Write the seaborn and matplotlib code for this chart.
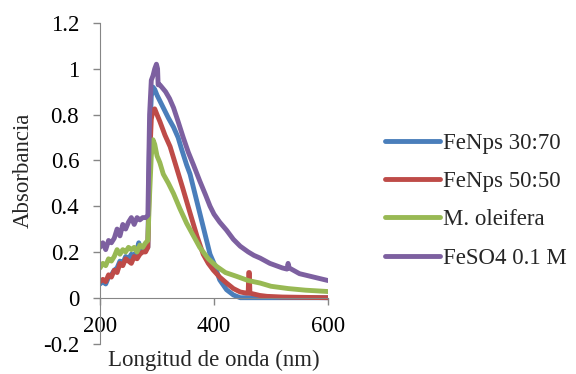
import numpy as np
import pandas as pd
import matplotlib
matplotlib.use("Agg")
import matplotlib.pyplot as plt
import seaborn as sns

# data (wavelength nm, absorbance)
wl_blue = [200, 205, 210, 215, 220, 225, 230, 235, 240, 245, 250, 255, 260, 265, 268, 272, 278, 284,
           287, 290, 293, 296, 300, 305, 311, 320, 329, 337, 343, 352, 358, 365, 375, 385, 393, 400,
           410, 422, 434, 446, 470, 500, 550, 600]
abs_blue = [0.06, 0.07, 0.06, 0.09, 0.10, 0.12, 0.13, 0.16, 0.15, 0.18, 0.17, 0.19, 0.18, 0.21, 0.24, 0.20, 0.21, 0.22,
            0.70, 0.88, 0.92, 0.91, 0.885, 0.86, 0.83, 0.785, 0.745, 0.70, 0.65, 0.58, 0.54, 0.47, 0.37, 0.27, 0.19, 0.15,
            0.078, 0.035, 0.012, 0.0, 0.0, 0.0, 0.0, 0.0]

wl_red = [200, 205, 210, 215, 220, 225, 230, 235, 240, 245, 250, 255, 260, 265, 270, 275, 280, 284,
          287, 290, 293, 296, 300, 305, 314, 323, 334, 345, 358, 370, 381, 390, 399, 410, 422, 434,
          446, 457, 460, 461, 462, 463, 480, 493, 520, 600]
abs_red = [0.07, 0.08, 0.07, 0.10, 0.09, 0.12, 0.11, 0.15, 0.14, 0.17, 0.16, 0.15, 0.18, 0.17, 0.19, 0.20, 0.20, 0.22,
           0.60, 0.78, 0.82, 0.825, 0.80, 0.77, 0.71, 0.66, 0.57, 0.48, 0.37, 0.27, 0.19, 0.15, 0.12, 0.09, 0.064, 0.04,
           0.025, 0.02, 0.02, 0.11, 0.11, 0.02, 0.01, 0.006, 0.003, 0.0]

wl_green = [200, 205, 210, 215, 220, 225, 230, 235, 240, 245, 250, 255, 260, 265, 270, 275, 280, 284,
            287, 290, 293, 296, 300, 305, 311, 320, 329, 340, 352, 364, 375, 390, 405, 420, 440, 460,
            481, 500, 530, 560, 600]
abs_green = [0.13, 0.15, 0.14, 0.17, 0.16, 0.18, 0.21, 0.19, 0.21, 0.20, 0.22, 0.21, 0.22, 0.20, 0.23, 0.22, 0.24, 0.25,
             0.45, 0.62, 0.69, 0.67, 0.62, 0.59, 0.54, 0.50, 0.455, 0.39, 0.325, 0.27, 0.22, 0.17, 0.136, 0.11, 0.093, 0.075,
             0.064, 0.05, 0.04, 0.033, 0.027]

wl_purple = [200, 205, 210, 215, 220, 225, 230, 235, 240, 245, 250, 255, 260, 265, 270, 275, 280, 284,
             287, 290, 293, 296, 299, 301, 302, 305, 310, 315, 322, 329, 337, 346, 355, 364, 375, 385,
             393, 400, 410, 422, 434, 446, 460, 470, 481, 498, 520, 528, 530, 532, 550, 575, 600]
abs_purple = [0.22, 0.24, 0.21, 0.25, 0.24, 0.26, 0.30, 0.27, 0.32, 0.30, 0.33, 0.35, 0.32, 0.35, 0.34, 0.35, 0.35, 0.36,
              0.80, 0.95, 0.97, 1.00, 1.02, 1.00, 0.93, 0.93, 0.915, 0.90, 0.87, 0.83, 0.77, 0.70, 0.635, 0.58, 0.51, 0.45,
              0.40, 0.365, 0.33, 0.295, 0.255, 0.225, 0.20, 0.185, 0.173, 0.15, 0.13, 0.125, 0.15, 0.13, 0.105, 0.09, 0.075]

labels = ["FeNps 30:70", "FeNps 50:50", "M. oleifera", "FeSO4 0.1 M"]
colors = ["#4A7EBB", "#BE4B48", "#98B954", "#7D60A0"]
yticks = [-0.2, 0, 0.2, 0.4, 0.6, 0.8, 1.0, 1.2]
ytick_labels = ["-0.2", "0", "0.2", "0.4", "0.6", "0.8", "1", "1.2"]
xticks = [200, 400, 600]

series = [(wl_blue, abs_blue), (wl_red, abs_red), (wl_green, abs_green), (wl_purple, abs_purple)]

sns.set_style("white")
plt.rcParams['font.family'] = ['Liberation Serif', 'DejaVu Serif']

fig = plt.figure(figsize=(5.76, 3.74), dpi=100)
ax = fig.add_axes([100/576, 30.5/374, 228/576, 320.5/374])

for (wl, ab), lab, col in zip(series, labels, colors):
    df = pd.DataFrame({"wl": wl, "abs": ab})
    sns.lineplot(data=df, x="wl", y="abs", ax=ax, color=col, lw=3.5, label=lab,
                 sort=False, estimator=None, solid_capstyle='round', solid_joinstyle='round')

ax.set_xlim(200, 600)
ax.set_ylim(-0.2, 1.2)
ax.set_xticks(xticks)
ax.set_xticklabels([str(t) for t in xticks])
ax.set_yticks(yticks)
ax.set_yticklabels(ytick_labels)

grey = "#868686"
for s in ["top", "right"]:
    ax.spines[s].set_visible(False)
ax.spines["bottom"].set_position(("data", 0))
ax.spines["bottom"].set_color(grey)
ax.spines["left"].set_color(grey)
ax.tick_params(axis="both", direction="out", color=grey, width=1, labelsize=16.5, labelcolor="black")
ax.tick_params(axis="x", length=5, pad=8, bottom=True)
ax.tick_params(axis="y", length=5, pad=10, left=True)

ax.set_xlabel("Longitud de onda (nm)", fontsize=16.5)
ax.set_ylabel("Absorbancia", fontsize=16.5)
ax.xaxis.set_label_coords(0.5, -0.02)
ax.yaxis.set_label_coords(-0.29, 0.54)

handles, labs = ax.get_legend_handles_labels()
ax.legend(handles, labs, loc="center left", bbox_to_anchor=(385/576, 1 - 200.8/374),
          bbox_transform=fig.transFigure, frameon=False, fontsize=16.5, borderpad=0,
          borderaxespad=0, handlelength=2.4, handletextpad=0.15, labelspacing=0.75)

plt.savefig("out.png", dpi=100)
plt.close()
